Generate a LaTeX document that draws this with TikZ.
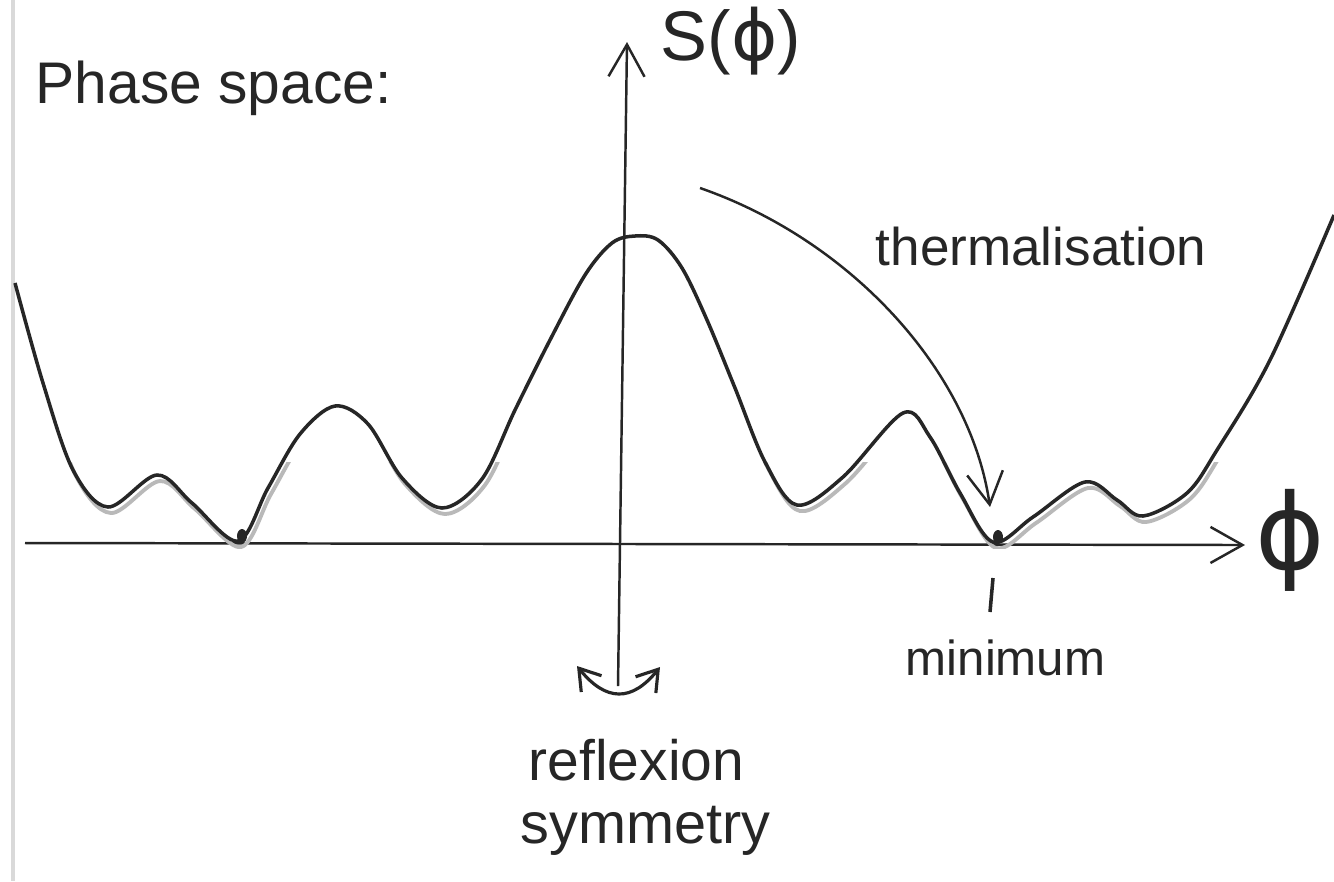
\documentclass[tikz,border=0pt]{standalone}
\usepackage{fontspec}
\setmainfont{Liberation Sans}
\newfontfamily\dvs{DejaVu Sans}
\usetikzlibrary{arrows.meta}
\tikzset{
  curveline/.style={line width=1.0pt, black!85},
  doubleline/.style={line width=1.1pt, gray!55},
  axisline/.style={line width=0.7pt, black!85},
  barb/.style={-{Straight Barb[length=3.2mm,width=3.6mm]}},
  smallbarb/.style={{Straight Barb[length=2mm,width=2.6mm]}-{Straight Barb[length=2mm,width=2.6mm]}},
  hand/.style={inner sep=0pt, text=black!85},
}
\def\curvepts{(15,283) (43,383) (73,470) (108,507) (157,475) (192,503) (238,541)
(268,488) (300,434) (335,406) (368,424) (402,478) (442,508) (482,479) (515,410)
(550,340) (585,275) (612,243) (635,236) (658,240) (682,268) (707,320) (735,388)
(765,462) (797,505) (843,477) (903,413) (930,437) (960,493) (993,542) (1033,517)
(1085,482) (1117,500) (1143,516) (1187,493) (1217,450) (1270,360) (1334,215)}
\begin{document}
\begin{tikzpicture}[x=0.01cm,y=-0.01cm]
\useasboundingbox (0,0) rectangle (1334,881);
\fill[white] (0,0) rectangle (1334,881);
% page edge
\draw[line width=1.4pt, gray!30] (13,0) -- (13,881);

% axes
\coordinate (xstart) at (25,543);
\coordinate (xend) at (1245,545);
\coordinate (ybot) at (618,686);
\coordinate (ytop) at (627,42);
\draw[axisline, barb] (xstart) -- (xend);
\draw[axisline, barb] (ybot) -- (ytop);

% gray double stroke near minima
\begin{scope}
\clip (0,462) rectangle (1334,548);
\draw[doubleline, shift={(3,6)}] plot[smooth, tension=0.55] coordinates {\curvepts};
\end{scope}

% main curve
\draw[curveline] plot[smooth, tension=0.55] coordinates {\curvepts};

% minima dots
\fill[black!85] (242,536) ellipse [x radius=5, y radius=7];
\fill[black!85] (998,537) ellipse [x radius=5, y radius=7];

% labels
\node[hand, anchor=base west, font=\fontsize{16.7}{20}\selectfont] (phase) at (35,103) {Phase space:};
\node[hand, anchor=base west, font=\fontsize{20}{24}\selectfont] (slabel) at (660,60) {S(\dvs ϕ\rmfamily)};
\node[hand, anchor=center, font=\dvs\fontsize{30}{34}\selectfont] (philabel) at (1290,540) {ϕ};
\node[hand, anchor=base west, font=\fontsize{15.1}{18}\selectfont] (therm) at (875,265) {thermalisation};
\node[hand, anchor=base west, font=\fontsize{14}{17}\selectfont] (minlabel) at (905,675) {minimum};
\node[hand, anchor=base west, font=\fontsize{16.2}{19}\selectfont] (refl) at (528,780) {reflexion};
\node[hand, anchor=base west, font=\fontsize{16.4}{19}\selectfont] (symm) at (520,843) {symmetry};

% thermalisation arrow
\coordinate (tstart) at (700,188);
\coordinate (tend) at (990,507);
\draw[axisline, barb] (tstart) .. controls (850,240) and (970,370) .. (tend);

% minimum tick
\coordinate (tick1) at (993,578);
\coordinate (tick2) at (990,612);
\draw[axisline, line width=1pt] (tick1) -- (tick2);

% reflexion double arrow
\coordinate (ra) at (577,666);
\coordinate (rb) at (660,667);
\draw[axisline, line width=0.9pt, smallbarb]
  (ra) .. controls (606,702) and (632,702) .. (rb);
\end{tikzpicture}
\end{document}
